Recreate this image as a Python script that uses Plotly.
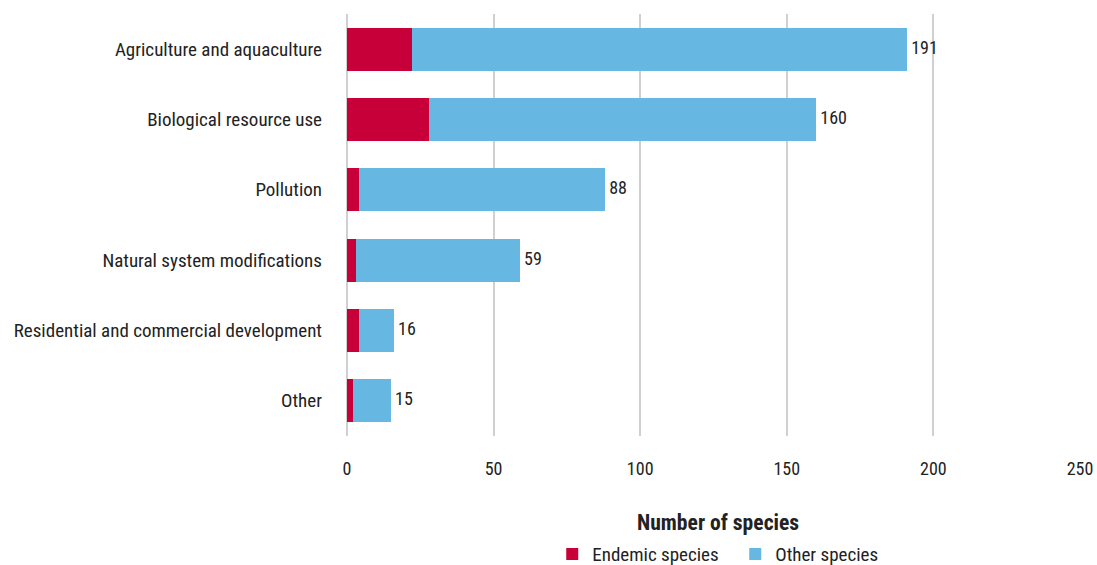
import plotly.graph_objects as go

categories = ["Agriculture and aquaculture", "Biological resource use", "Pollution",
              "Natural system modifications", "Residential and commercial development", "Other"]
totals = [191, 160, 88, 59, 16, 15]
endemic = [22, 28, 4, 3, 4, 2]
other = [t - e for t, e in zip(totals, endemic)]
x_ticks = [0, 50, 100, 150, 200, 250]

FONT = "Liberation Sans Narrow, Roboto Condensed, Arial Narrow, Roboto, sans-serif"
RED = "#C8003A"
BLUE = "#67B7E3"
TXT = "#222222"

fig = go.Figure()
fig.add_trace(go.Bar(y=categories, x=endemic, orientation="h", name="Endemic species",
                     marker=dict(color=RED, line=dict(width=0))))
fig.add_trace(go.Bar(y=categories, x=other, orientation="h", name="Other species",
                     marker=dict(color=BLUE, line=dict(width=0))))
fig.add_trace(go.Scatter(y=categories, x=totals, mode="text",
                         text=["\u00a0" + str(t) for t in totals],
                         textposition="middle right", textfont=dict(size=18, color=TXT, family=FONT),
                         showlegend=False, hoverinfo="skip", cliponaxis=False))

fig.update_layout(
    width=1097, height=565,
    barmode="stack", bargap=0.39,
    plot_bgcolor="white", paper_bgcolor="white",
    margin=dict(l=347, r=17, t=14, b=129, autoexpand=False),
    font=dict(family=FONT, size=18, color=TXT),
    legend=dict(orientation="h", x=0.28, xanchor="left", y=-0.28, yanchor="middle",
                font=dict(size=19, color=TXT), itemwidth=30, traceorder="normal",
                entrywidth=138, entrywidthmode="pixels"),
    annotations=[dict(text="<b>Number of species</b>", x=0.506, xref="paper", y=-0.206, yref="paper",
                      showarrow=False, font=dict(size=21.6, color=TXT, family=FONT),
                      xanchor="center", yanchor="middle")],
)
fig.update_xaxes(range=[0, 250], tickvals=x_ticks, showgrid=True, gridcolor="#D0D0D0", gridwidth=2,
                 zeroline=True, zerolinecolor="#D0D0D0", zerolinewidth=2, showline=False,
                 ticks="", ticklabelstandoff=20, tickfont=dict(size=18, color=TXT))
fig.update_yaxes(autorange="reversed", showgrid=False, zeroline=False, showline=False,
                 ticks="", ticklabelstandoff=24, tickfont=dict(size=19, color=TXT))

fig.write_html("out.html", config={"displayModeBar": False},
               post_script="document.body.style.margin='0';document.body.style.overflow='hidden';")
